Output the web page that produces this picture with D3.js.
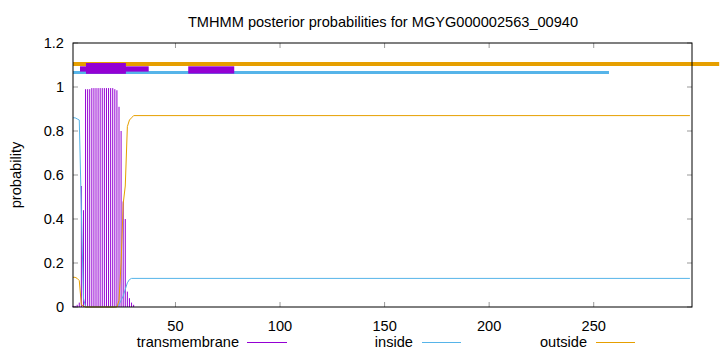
<!DOCTYPE html>
<html>
<head>
<meta charset="utf-8">
<script src="https://cdn.jsdelivr.net/npm/d3@7"></script>
<style>
  body { margin: 0; background: #fff; }
  svg { display: block; font-family: "Liberation Sans", Arial, sans-serif; }
</style>
</head>
<body>
<svg id="plot" width="720" height="352"></svg>
<script>
const width = 720;
const height = 352;
const FS = 14.6;

// posterior probabilities (residue positions)
const tmPos = [1, 2, 3, 4, 5, 6, 7, 8, 9, 10, 11, 12, 13, 14, 15, 16, 17, 18, 19, 20, 21, 22, 23, 24, 25, 26, 27, 28, 29, 30];
const tmVal = [0.005, 0.005, 0.01, 0.02, 0.55, 0.44, 0.99, 0.99, 0.99, 0.995, 0.995, 0.995, 0.995, 0.995, 0.995, 0.995, 0.995, 0.995, 0.995, 0.995, 0.99, 0.985, 0.91, 0.8, 0.48, 0.4, 0.07, 0.04, 0.02, 0.01];

const inPos = [1, 2, 3, 4, 5, 6, 7, 21, 22, 23, 24, 25, 26, 27, 28, 29, 296];
const inVal = [0.86, 0.86, 0.855, 0.85, 0.44, 0.04, 0, 0, 0.003, 0.01, 0.03, 0.05, 0.08, 0.11, 0.125, 0.13, 0.13];

const outPos = [1, 2, 3, 4, 5, 6, 7, 22, 23, 24, 25, 26, 27, 28, 29, 30, 296];
const outVal = [0.135, 0.135, 0.13, 0.12, 0.01, 0.005, 0, 0, 0.03, 0.2, 0.47, 0.55, 0.82, 0.85, 0.86, 0.87, 0.87];

// topology bars at the top
const outsideBar = { x0: 1, x1: 310, y: 1.105 };
const insideBar = { x0: 1, x1: 257.3, y: 1.066 };
const tmBoxX0 = [4.35, 7.2, 56.1];
const tmBoxX1 = [37.2, 26.3, 78.1];
const tmBoxY0 = [1.07, 1.06, 1.061];
const tmBoxY1 = [1.094, 1.109, 1.094];

const xTicks = [50, 100, 150, 200, 250];
const yTicks = [0, 0.2, 0.4, 0.6, 0.8, 1, 1.2];

const C_TM = "#9400d3", C_IN = "#56b4e9", C_OUT = "#e69f00";

const svg = d3.select("#plot");

const x = d3.scaleLinear().domain([1, 297]).range([73, 692]);
const y = d3.scaleLinear().domain([0, 1.2]).range([307, 43]);

// title
svg.append("text")
  .attr("x", 383).attr("y", 27)
  .attr("text-anchor", "middle")
  .attr("font-size", FS)
  .text("TMHMM posterior probabilities for MGYG000002563_00940");

// y label
svg.append("text")
  .attr("transform", "translate(21,175) rotate(-90)")
  .attr("text-anchor", "middle")
  .attr("font-size", FS)
  .text("probability");

// ticks (inward, mirrored)
const g = svg.append("g");
yTicks.forEach(t => {
  g.append("line").attr("x1", x.range()[0]).attr("x2", x.range()[0] + 5)
    .attr("y1", y(t)).attr("y2", y(t)).attr("stroke", "#999");
  g.append("line").attr("x1", x.range()[1]).attr("x2", x.range()[1] - 5)
    .attr("y1", y(t)).attr("y2", y(t)).attr("stroke", "#999");
  g.append("text").attr("x", 64).attr("y", y(t) + 5)
    .attr("text-anchor", "end").attr("font-size", FS)
    .text(d3.format("~g")(t));
});
xTicks.forEach(t => {
  g.append("line").attr("x1", x(t)).attr("x2", x(t))
    .attr("y1", y.range()[0]).attr("y2", y.range()[0] - 5).attr("stroke", "#999");
  g.append("line").attr("x1", x(t)).attr("x2", x(t))
    .attr("y1", y.range()[1]).attr("y2", y.range()[1] + 5).attr("stroke", "#999");
  g.append("text").attr("x", x(t)).attr("y", 331)
    .attr("text-anchor", "middle").attr("font-size", FS)
    .text(t);
});

// transmembrane impulses
svg.append("g").selectAll("line")
  .data(tmPos.map((p, i) => ({ p, v: tmVal[i] })))
  .join("line")
  .attr("x1", d => x(d.p)).attr("x2", d => x(d.p))
  .attr("y1", y(0)).attr("y2", d => y(d.v))
  .attr("stroke", C_TM).attr("stroke-width", 1);

const line = d3.line().x(d => x(d[0])).y(d => y(d[1]));

svg.append("path")
  .attr("d", line(inPos.map((p, i) => [p, inVal[i]])))
  .attr("fill", "none").attr("stroke", C_IN).attr("stroke-width", 1);

svg.append("path")
  .attr("d", line(outPos.map((p, i) => [p, outVal[i]])))
  .attr("fill", "none").attr("stroke", C_OUT).attr("stroke-width", 1);

// topology bars
svg.append("line")
  .attr("x1", x(outsideBar.x0)).attr("x2", x(outsideBar.x1))
  .attr("y1", y(outsideBar.y)).attr("y2", y(outsideBar.y))
  .attr("stroke", C_OUT).attr("stroke-width", 4);
svg.append("line")
  .attr("x1", x(insideBar.x0)).attr("x2", x(insideBar.x1))
  .attr("y1", y(insideBar.y)).attr("y2", y(insideBar.y))
  .attr("stroke", C_IN).attr("stroke-width", 3);
svg.append("g").selectAll("rect")
  .data(tmBoxX0.map((x0, i) => ({ x0, x1: tmBoxX1[i], y0: tmBoxY0[i], y1: tmBoxY1[i] })))
  .join("rect")
  .attr("x", d => x(d.x0)).attr("width", d => x(d.x1) - x(d.x0))
  .attr("y", d => y(d.y1)).attr("height", d => y(d.y0) - y(d.y1))
  .attr("fill", C_TM);

// border
svg.append("rect")
  .attr("x", x.range()[0]).attr("y", y.range()[1])
  .attr("width", x.range()[1] - x.range()[0])
  .attr("height", y.range()[0] - y.range()[1])
  .attr("fill", "none").attr("stroke", "#000").attr("stroke-width", 1);

// legend
const legend = [
  { label: "transmembrane", color: C_TM, tx: 239, lx0: 247, lx1: 287 },
  { label: "inside", color: C_IN, tx: 413, lx0: 422, lx1: 461 },
  { label: "outside", color: C_OUT, tx: 587, lx0: 596, lx1: 635 }
];
legend.forEach(l => {
  svg.append("text").attr("x", l.tx).attr("y", 347)
    .attr("text-anchor", "end").attr("font-size", FS).text(l.label);
  svg.append("line").attr("x1", l.lx0).attr("x2", l.lx1)
    .attr("y1", 342.5).attr("y2", 342.5)
    .attr("stroke", l.color).attr("stroke-width", 1);
});
</script>
</body>
</html>
